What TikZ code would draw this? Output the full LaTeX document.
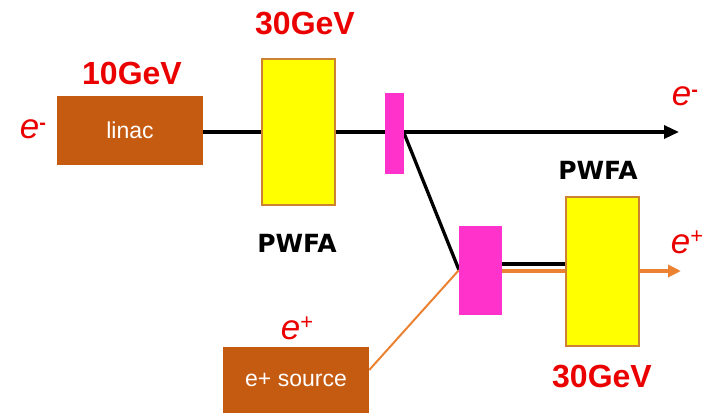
\documentclass[tikz,border=0pt]{standalone}
\usepackage{fontspec}
\setmainfont{Liberation Sans}
\newfontfamily\pwfafont{DejaVu Sans}
\usetikzlibrary{arrows.meta,backgrounds}
\definecolor{brownbox}{RGB}{197,90,17}
\definecolor{yelfill}{RGB}{255,255,0}
\definecolor{yelborder}{RGB}{205,130,50}
\definecolor{pinkfill}{RGB}{255,51,204}
\definecolor{orangeline}{RGB}{235,130,50}
\definecolor{redtext}{RGB}{235,0,0}
\newcommand{\elminus}{e\raisebox{9pt}{\upshape\bfseries\fontsize{20}{20}\selectfont -}}
\newcommand{\elplus}{e\raisebox{10pt}{\upshape\fontsize{22}{22}\selectfont +}}
\tikzset{
  box/.style={fill=brownbox, draw=none, text=white, inner sep=0pt, font=\fontsize{23}{26}\selectfont},
  pwfa/.style={fill=yelfill, draw=yelborder, line width=1.6pt, inner sep=0pt},
  splitter/.style={fill=pinkfill, draw=none, inner sep=0pt},
  energy/.style={text=redtext, font=\fontsize{32}{36}\selectfont\bfseries, inner sep=0pt},
  plabel/.style={text=black, font=\pwfafont\fontsize{25}{28}\selectfont\bfseries, inner sep=0pt},
  particle/.style={text=redtext, font=\fontsize{35}{38}\selectfont\itshape, inner sep=0pt},
  beam/.style={line width=3.3pt, black},
  pbeam/.style={line width=3.4pt, orangeline},
  tip/.style={-{Triangle[length=15pt,width=13pt]}},
  ptip/.style={-{Triangle[length=13pt,width=12pt]}}
}
\begin{document}
\begin{tikzpicture}[x=1pt,y=-1pt]
\useasboundingbox (0,0) rectangle (702,413);
% boxes
\node[box, minimum width=146pt, minimum height=69pt] (linac) at (130,130.5) {linac};
\node[box, minimum width=146pt, minimum height=66pt] (source) at (296,380) {e+ source};
\node[pwfa, minimum width=73pt, minimum height=146pt] (acc1) at (298.5,132) {};
\node[pwfa, minimum width=73pt, minimum height=149pt] (acc2) at (602.5,271.5) {};
\node[splitter, minimum width=19pt, minimum height=81pt] (sep1) at (394.5,133.5) {};
\node[splitter, minimum width=43pt, minimum height=89pt] (sep2) at (480.5,270.5) {};
% labels
\node[energy] (e10) at (132,73) {10GeV};
\node[energy] (e30a) at (305,24) {30GeV};
\node[energy] (e30b) at (602,377) {30GeV};
\node[plabel] (p1) at (297,243) {PWFA};
\node[plabel] (p2) at (598,170) {PWFA};
\node[particle] (em1) at (33,129) {\elminus};
\node[particle] (em2) at (685,96) {\elminus};
\node[particle] (ep1) at (687,242) {\elplus};
\node[particle] (ep2) at (297,328) {\elplus};
% connector ends
\coordinate (eend) at (679,132);
\coordinate (pend) at (681,271);
\coordinate (merge) at (459,270);
\coordinate (kick) at (404,133);
\begin{pgfonlayer}{background}
\draw[beam, tip] (linac.east |- eend) -- (eend);
\draw[beam] (kick) -- (merge);
\draw[pbeam, ptip] (sep2.east |- pend) -- (pend);
\draw[beam] (sep2.east |- 0,264) -- (acc2.west |- 0,264);
\draw[orangeline, line width=2pt] (source.east |- 0,370) -- (merge);
\end{pgfonlayer}
\end{tikzpicture}
\end{document}
